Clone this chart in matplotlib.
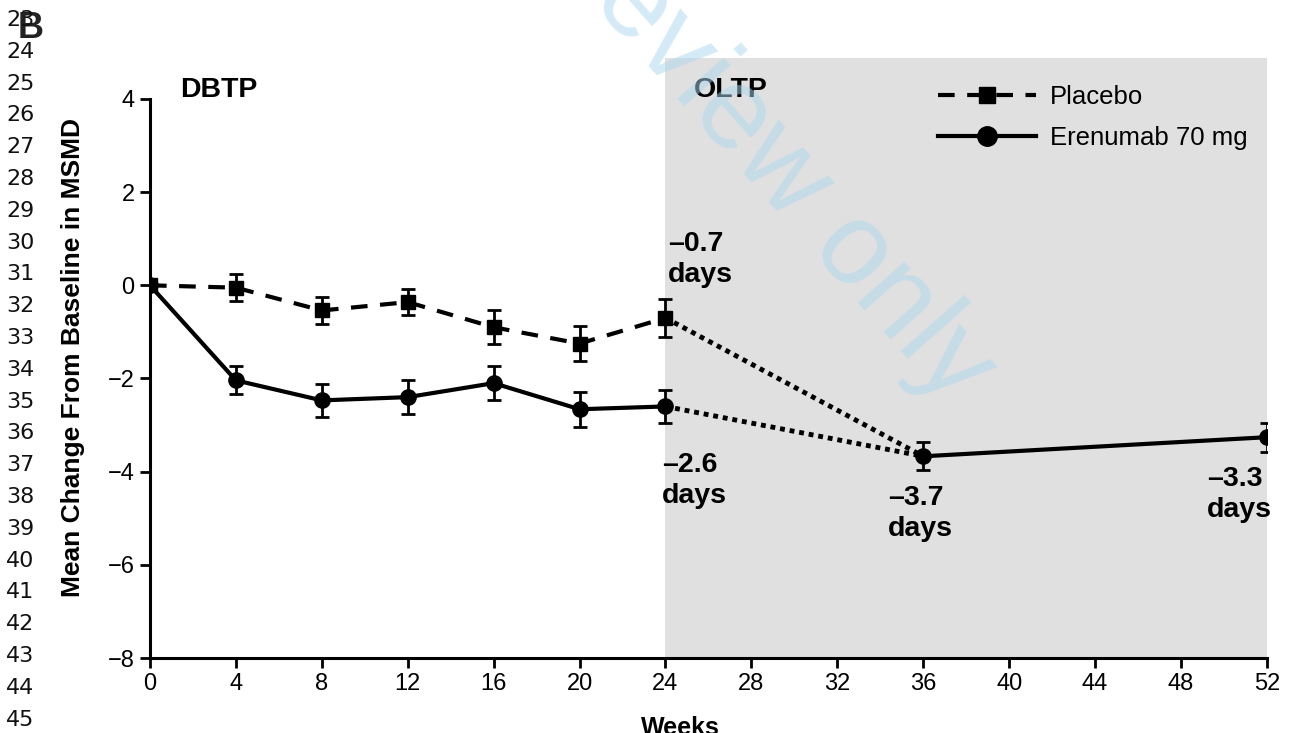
# Mean change from baseline in MSMD, DBTP / OLTP panel B
import numpy as np
import matplotlib.pyplot as plt
from matplotlib.lines import Line2D

# Data
weeks_db = [0, 4, 8, 12, 16, 20, 24]
placebo = [0, -0.05, -0.54, -0.36, -0.9, -1.25, -0.7]
placebo_err = [0, 0.29, 0.29, 0.28, 0.37, 0.37, 0.4]
erenumab = [0, -2.04, -2.47, -2.4, -2.1, -2.66, -2.6]
erenumab_err = [0, 0.3, 0.35, 0.36, 0.37, 0.38, 0.35]

weeks_ol = [36, 52]
ol_values = [-3.67, -3.26]
ol_err = [0.3, 0.31]

x_ticks = [0, 4, 8, 12, 16, 20, 24, 28, 32, 36, 40, 44, 48, 52]
y_ticks = [4, 2, 0, -2, -4, -6, -8]
line_numbers = list(range(22, 46))

plt.rcParams['font.family'] = ['Liberation Sans', 'DejaVu Sans']

fig = plt.figure(figsize=(12.96, 7.33), dpi=100)
ax = fig.add_axes([0.1157, 0.1023, 0.8619, 0.8186])

# open-label shading
ax.axvspan(24, 52, color='#e0e0e0', lw=0, zorder=0)

# dotted transitions into open-label
ax.plot([24, 36], [placebo[-1], ol_values[0]], color='black', lw=3.5,
        linestyle=(0, (1, 1)), zorder=2)
ax.plot([24, 36], [erenumab[-1], ol_values[0]], color='black', lw=3.5,
        linestyle=(0, (1, 1)), zorder=2)

ax.errorbar(weeks_db, placebo, yerr=placebo_err, color='black', lw=3,
            dashes=(4, 3), marker='s', ms=9.5, capsize=5, elinewidth=2,
            capthick=2, zorder=3)
ax.errorbar(weeks_db, erenumab, yerr=erenumab_err, color='black', lw=3,
            marker='o', ms=11, capsize=5, elinewidth=2, capthick=2, zorder=3)
ax.errorbar(weeks_ol, ol_values, yerr=ol_err, color='black', lw=3,
            marker='o', ms=11, capsize=5, elinewidth=2, capthick=2, zorder=3)

ax.set_xlim(0, 52)
ax.set_ylim(-8, 4.88)
ax.set_xticks(x_ticks)
ax.set_yticks(y_ticks)
ax.set_yticklabels([str(t).replace('-', '\u2212') for t in y_ticks])
ax.tick_params(labelsize=17, width=2, length=7, direction='out', pad=4)
for s in ['top', 'right']:
    ax.spines[s].set_visible(False)
for s in ['left', 'bottom']:
    ax.spines[s].set_linewidth(2.2)
ax.spines['left'].set_bounds(-8, 4)

ax.set_ylabel('Mean Change From Baseline in MSMD', fontsize=19,
              fontweight='bold')
ax.yaxis.set_label_coords(-0.058, 0.5)
ax.set_xlabel('Weeks', fontsize=18, fontweight='bold', va='top')
ax.xaxis.set_label_coords(0.475, -0.097)

# period labels
ax.text(1.4, 4.2, 'DBTP', fontsize=20.5, fontweight='bold', va='center')
ax.text(25.3, 4.2, 'OLTP', fontsize=20.5, fontweight='bold', va='center')

# value annotations
ann = dict(fontsize=20.5, fontweight='bold', linespacing=1.25, va='center', ha='left')
ax.text(24.1, 0.55, '\u20130.7\ndays', **ann)
ax.text(23.85, -4.2, '\u20132.6\ndays', **ann)
ax.text(34.35, -4.9, '\u20133.7\ndays', **ann)
ax.text(49.2, -4.5, '\u20133.3\ndays', **ann)

handles = [
    Line2D([], [], color='black', lw=3, dashes=(4, 3), marker='s', ms=12),
    Line2D([], [], color='black', lw=3, marker='o', ms=14),
]
ax.legend(handles, ['Placebo', 'Erenumab 70 mg'], loc='upper left',
          bbox_to_anchor=(0.685, 0.993), frameon=False, fontsize=18.5,
          handlelength=3.8, handletextpad=0.55, labelspacing=0.65)

# manuscript page decorations
fig.text(0.024, 1 - 29 / 733, 'B', fontsize=26, fontweight='bold', va='center',
         ha='center', color='#222222')
for n in line_numbers:
    y_px = 20 + (n - 23) * 31.8
    fig.text(0.0265, 1 - y_px / 733, str(n), fontsize=16, family='DejaVu Sans',
             ha='right', va='center', color='#111111')
fig.text(765 / 1296, 1 - 152 / 733, 'Review only', fontsize=84, color='#aad8f0',
         alpha=0.5, rotation=-48.5, rotation_mode='anchor', ha='center',
         va='center', zorder=10)

fig.savefig('out.png', dpi=100)
